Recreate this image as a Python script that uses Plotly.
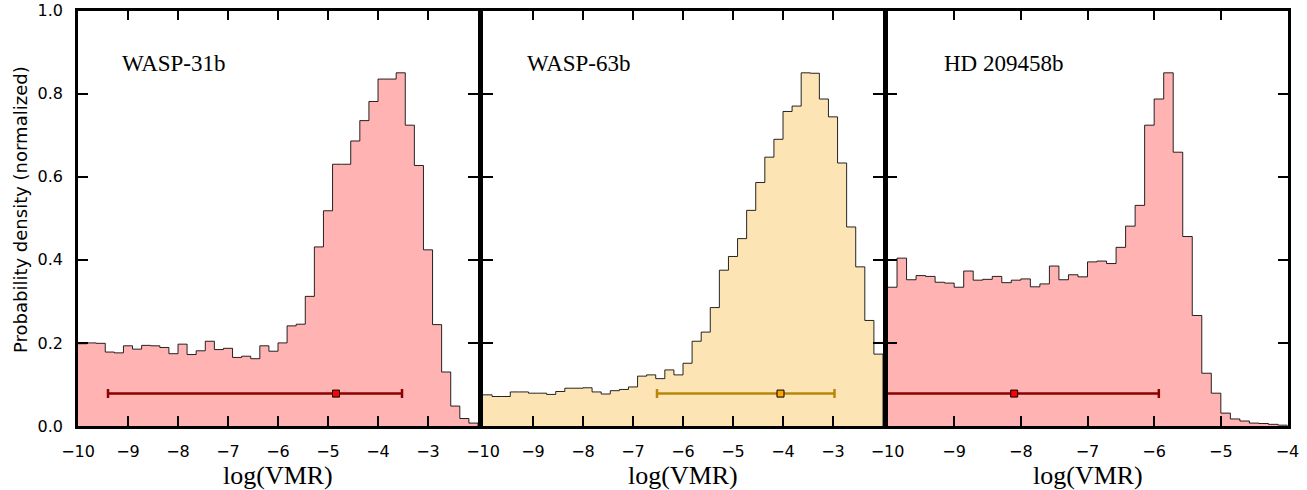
import plotly.graph_objects as go

# ---------------- data ----------------
planets = ["WASP-31b", "WASP-63b", "HD 209458b"]

# histogram bins: start, width, normalized densities
bin_start = [-10.0, -10.0, -10.0]
bin_width = [8 / 44, 8 / 44, 1 / 7]

wasp31_density = [0.198, 0.200, 0.199, 0.178, 0.176, 0.193, 0.185, 0.194, 0.193, 0.189,
                  0.174, 0.197, 0.172, 0.181, 0.204, 0.184, 0.187, 0.165, 0.168, 0.162,
                  0.193, 0.180, 0.200, 0.241, 0.245, 0.312, 0.431, 0.518, 0.630, 0.630,
                  0.686, 0.735, 0.781, 0.835, 0.835, 0.850, 0.724, 0.627, 0.424, 0.244,
                  0.130, 0.048, 0.018, 0.007]

wasp63_density = [0.075, 0.071, 0.071, 0.082, 0.082, 0.079, 0.079, 0.076, 0.083, 0.091,
                  0.091, 0.092, 0.082, 0.077, 0.085, 0.088, 0.094, 0.120, 0.123, 0.114,
                  0.135, 0.123, 0.151, 0.204, 0.226, 0.285, 0.375, 0.408, 0.451, 0.519,
                  0.586, 0.647, 0.690, 0.757, 0.770, 0.850, 0.849, 0.787, 0.744, 0.633,
                  0.479, 0.383, 0.254, 0.173]

hd209_density = [0.334, 0.404, 0.352, 0.362, 0.360, 0.346, 0.344, 0.334, 0.373, 0.351,
                 0.353, 0.360, 0.345, 0.351, 0.354, 0.335, 0.342, 0.385, 0.352, 0.364,
                 0.359, 0.395, 0.397, 0.391, 0.430, 0.481, 0.531, 0.724, 0.787, 0.850,
                 0.659, 0.456, 0.266, 0.127, 0.079, 0.031, 0.017, 0.012, 0.007, 0.006,
                 0.004, 0.002]

densities = [wasp31_density, wasp63_density, hd209_density]

# retrieved log(VMR): lower bound, median, upper bound
vmr_low = [-9.40, -6.52, -10.27]
vmr_med = [-4.84, -4.05, -8.10]
vmr_high = [-3.52, -2.97, -5.93]
errbar_level = [0.078, 0.078, 0.078]

x_ranges = [[-10, -2], [-10, -2], [-10, -4]]
x_tickvals = [[-10, -9, -8, -7, -6, -5, -4, -3],
              [-10, -9, -8, -7, -6, -5, -4, -3],
              [-10, -9, -8, -7, -6, -5, -4]]
y_tickvals = [0.0, 0.2, 0.4, 0.6, 0.8, 1.0]

# ---------------- style ----------------
fill_colors = ["#ffb3b3", "#fde4b4", "#ffb3b3"]
bar_colors = ["#8b0000", "#b8860b", "#8b0000"]
marker_colors = ["#ff0000", "#ffa500", "#ff0000"]
label_xfrac = [0.105, 0.105, 0.135]

W, H = 1307, 490
panel_px = [(78, 478), (483, 883), (887.5, 1287.5)]
top_px, bot_px = 10.5, 426

fig = go.Figure()

for i in range(3):
    xs = "" if i == 0 else str(i + 1)
    vals = densities[i]
    n = len(vals)
    edges = [bin_start[i] + k * bin_width[i] for k in range(n + 1)]
    xstep = edges + [edges[-1]]
    ystep = list(vals) + [vals[-1], 0.0]
    fig.add_trace(go.Scatter(
        x=xstep, y=ystep, mode="lines", line=dict(shape="hv", color="rgba(0,0,0,0.85)", width=1),
        fill="tozeroy", fillcolor=fill_colors[i], xaxis="x" + xs, yaxis="y" + xs,
        showlegend=False, hoverinfo="skip"))
    fig.add_trace(go.Scatter(
        x=[vmr_med[i]], y=[errbar_level[i]], mode="markers",
        marker=dict(symbol="square", size=7, color=marker_colors[i],
                    line=dict(color="black", width=1)),
        error_x=dict(type="data", symmetric=False,
                     array=[vmr_high[i] - vmr_med[i]],
                     arrayminus=[vmr_med[i] - vmr_low[i]],
                     color=bar_colors[i], thickness=2.5, width=4.5),
        xaxis="x" + xs, yaxis="y" + xs, showlegend=False, cliponaxis=True))

    x0, x1 = panel_px[i]
    axis_common = dict(showline=True, linecolor="black", linewidth=2.5, mirror="ticks",
                       ticks="inside", ticklen=10, tickwidth=1.5, tickcolor="black",
                       showgrid=False, zeroline=False, automargin=False,
                       tickfont=dict(family="DejaVu Sans", size=16, color="black"))
    fig.update_layout(**{
        "xaxis" + xs: dict(domain=[x0 / W, x1 / W], range=x_ranges[i],
                           tickvals=x_tickvals[i], anchor="y" + xs,
                           ticklabelstandoff=9, **axis_common),
        "yaxis" + xs: dict(domain=[(H - bot_px) / H, (H - top_px) / H], range=[0, 1],
                           tickvals=y_tickvals, tickformat=".1f", showticklabels=(i == 0),
                           ticklabelstandoff=9, anchor="x" + xs, **axis_common),
    })
    fig.add_annotation(text=planets[i], xref="x" + xs + " domain", yref="y" + xs + " domain",
                       x=label_xfrac[i], y=0.872, xanchor="left", yanchor="middle",
                       showarrow=False, font=dict(family="Liberation Serif", size=23, color="black"))
    fig.add_annotation(text="log(VMR)", xref="x" + xs + " domain", yref="paper",
                       x=0.5, y=(H - 475) / H, xanchor="center", yanchor="middle",
                       showarrow=False, font=dict(family="Liberation Serif", size=26, color="black"))

fig.add_annotation(text="Probability density (normalized)", xref="paper", yref="paper",
                   x=20 / W, y=(H - 210) / H, textangle=-90, xanchor="center", yanchor="middle",
                   showarrow=False, font=dict(family="DejaVu Sans", size=18, color="black"))

fig.update_layout(width=W, height=H, margin=dict(l=0, r=0, t=0, b=0, autoexpand=False),
                  paper_bgcolor="white", plot_bgcolor="white")

fig.write_html("out.html")
